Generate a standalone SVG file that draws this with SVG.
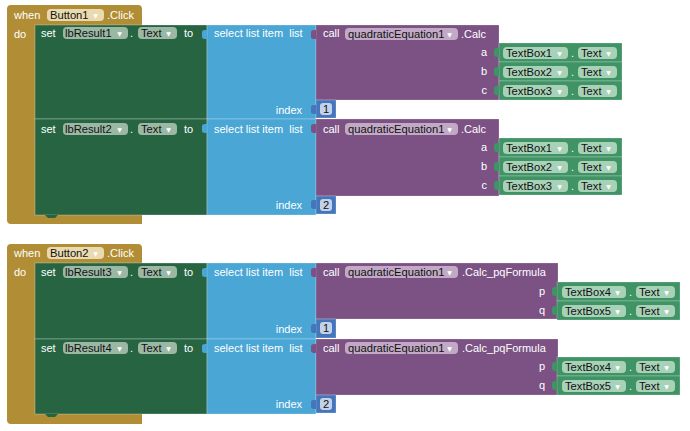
<svg xmlns="http://www.w3.org/2000/svg" width="690" height="431" viewBox="0 0 690 431">
<style>
.t{font-family:"Liberation Sans",Arial,sans-serif;font-size:11px;fill:#fff}
.e{text-anchor:end}
.f{font-family:"Liberation Sans",Arial,sans-serif;font-size:11.2px;fill:#111}
.ar{font-family:"DejaVu Sans",sans-serif;font-size:6px;fill:#fff;text-anchor:middle}
.ev{fill:#b18e35}
.set{fill:#276542;stroke:#fff;stroke-opacity:.35;stroke-width:.8}
.sel{fill:#4aa6d5;stroke:#fff;stroke-opacity:.3;stroke-width:.8}
.call{fill:#7b5283;stroke:#fff;stroke-opacity:.25;stroke-width:.8}
.num{fill:#4576bb;stroke:#fff;stroke-opacity:.3;stroke-width:.8}
.tb{fill:#3f9365;stroke:#fff;stroke-opacity:.3;stroke-width:.8}
.fe{fill:#e9dab0}
.fs{fill:#9bb8a4}
.fc{fill:#c2aac6}
.fn{fill:#c3d2e8}
.ft{fill:#a8d2b8}
</style>
<defs>
<path id="tab" d="M0,0 C-3,0 -5,0 -5,2.5 V6.5 C-5,9 -3,9 0,9 Z"/>
</defs>

<g id="event1">
<path class="ev" d="M7,9 Q7,5 11,5 H138 Q142,5 142,9 V25 H35 V215 H142 V224 H11 Q7,224 7,220 Z"/>
<text class="t" x="14" y="19">when</text>
<rect class="fe" x="47" y="9" width="57" height="12" rx="4"/>
<text class="f" x="50" y="19">Button1</text>
<text class="ar" x="95.5" y="18">▼</text>
<text class="t" x="107" y="19">.Click</text>
<text class="t" x="14" y="38">do</text>
</g>

<g id="set1">
<rect class="set" x="35" y="25" width="172" height="94"/>
<text class="t" x="41" y="37">set</text>
<rect class="fs" x="63" y="27" width="65" height="12" rx="4"/>
<text class="f" x="65" y="37">lbResult1</text>
<text class="ar" x="119.5" y="36">▼</text>
<text class="t" x="130" y="37">.</text>
<rect class="fs" x="138" y="27" width="39" height="12" rx="4"/>
<text class="f" x="141" y="37">Text</text>
<text class="ar" x="168.5" y="36">▼</text>
<text class="t" x="184" y="37">to</text>
</g>
<g id="select1">
<rect class="sel" x="207" y="25" width="109" height="94"/>
<text class="t" x="214" y="37" xml:space="preserve">select list item  list</text>
<text class="t e" x="302" y="114">index</text>
</g>
<g id="call1">
<rect class="call" x="316" y="25" width="183" height="75"/>
<text class="t" x="323" y="37">call</text>
<rect class="fc" x="345" y="28" width="113" height="12" rx="4"/>
<text class="f" x="348" y="38">quadraticEquation1</text>
<text class="ar" x="449.5" y="37">▼</text>
<text class="t" x="461" y="38">.Calc</text>
<text class="t e" x="487" y="56">a</text>
<text class="t e" x="487" y="75">b</text>
<text class="t e" x="487" y="94">c</text>
</g>
<g id="tb1">
<rect class="tb" x="499" y="43" width="123" height="19"/>
<rect class="ft" x="503" y="47" width="65" height="12" rx="4"/>
<text class="f" x="506" y="57">TextBox1</text>
<text class="ar" x="559.5" y="56">▼</text>
<text class="t" x="571" y="57">.</text>
<rect class="ft" x="578" y="47" width="39" height="12" rx="4"/>
<text class="f" x="581" y="57">Text</text>
<text class="ar" x="608.5" y="56">▼</text>
</g>
<g id="tb2">
<rect class="tb" x="499" y="62" width="123" height="19"/>
<rect class="ft" x="503" y="66" width="65" height="12" rx="4"/>
<text class="f" x="506" y="76">TextBox2</text>
<text class="ar" x="559.5" y="75">▼</text>
<text class="t" x="571" y="76">.</text>
<rect class="ft" x="578" y="66" width="39" height="12" rx="4"/>
<text class="f" x="581" y="76">Text</text>
<text class="ar" x="608.5" y="75">▼</text>
</g>
<g id="tb3">
<rect class="tb" x="499" y="81" width="123" height="19"/>
<rect class="ft" x="503" y="85" width="65" height="12" rx="4"/>
<text class="f" x="506" y="95">TextBox3</text>
<text class="ar" x="559.5" y="94">▼</text>
<text class="t" x="571" y="95">.</text>
<rect class="ft" x="578" y="85" width="39" height="12" rx="4"/>
<text class="f" x="581" y="95">Text</text>
<text class="ar" x="608.5" y="94">▼</text>
</g>
<g id="num1">
<rect class="num" x="316" y="100" width="20" height="18"/>
<rect class="fn" x="320" y="103" width="12" height="12" rx="3"/>
<text class="f" x="323" y="113">1</text>
</g>

<g id="set2">
<rect class="set" x="35" y="119" width="172" height="96"/>
<text class="t" x="41" y="133">set</text>
<rect class="fs" x="63" y="123" width="65" height="12" rx="4"/>
<text class="f" x="65" y="133">lbResult2</text>
<text class="ar" x="119.5" y="132">▼</text>
<text class="t" x="130" y="133">.</text>
<rect class="fs" x="138" y="123" width="39" height="12" rx="4"/>
<text class="f" x="141" y="133">Text</text>
<text class="ar" x="168.5" y="132">▼</text>
<text class="t" x="184" y="133">to</text>
</g>
<g id="select2">
<rect class="sel" x="207" y="119" width="109" height="96"/>
<text class="t" x="214" y="133" xml:space="preserve">select list item  list</text>
<text class="t e" x="302" y="209">index</text>
</g>
<g id="call2">
<rect class="call" x="316" y="119" width="183" height="77"/>
<text class="t" x="323" y="133">call</text>
<rect class="fc" x="345" y="123" width="113" height="12" rx="4"/>
<text class="f" x="348" y="133">quadraticEquation1</text>
<text class="ar" x="449.5" y="132">▼</text>
<text class="t" x="461" y="133">.Calc</text>
<text class="t e" x="487" y="151">a</text>
<text class="t e" x="487" y="170">b</text>
<text class="t e" x="487" y="189">c</text>
</g>
<g id="tb4">
<rect class="tb" x="499" y="138" width="123" height="19"/>
<rect class="ft" x="503" y="142" width="65" height="12" rx="4"/>
<text class="f" x="506" y="152">TextBox1</text>
<text class="ar" x="559.5" y="151">▼</text>
<text class="t" x="571" y="152">.</text>
<rect class="ft" x="578" y="142" width="39" height="12" rx="4"/>
<text class="f" x="581" y="152">Text</text>
<text class="ar" x="608.5" y="151">▼</text>
</g>
<g id="tb5">
<rect class="tb" x="499" y="157" width="123" height="19"/>
<rect class="ft" x="503" y="161" width="65" height="12" rx="4"/>
<text class="f" x="506" y="171">TextBox2</text>
<text class="ar" x="559.5" y="170">▼</text>
<text class="t" x="571" y="171">.</text>
<rect class="ft" x="578" y="161" width="39" height="12" rx="4"/>
<text class="f" x="581" y="171">Text</text>
<text class="ar" x="608.5" y="170">▼</text>
</g>
<g id="tb6">
<rect class="tb" x="499" y="176" width="123" height="19"/>
<rect class="ft" x="503" y="180" width="65" height="12" rx="4"/>
<text class="f" x="506" y="190">TextBox3</text>
<text class="ar" x="559.5" y="189">▼</text>
<text class="t" x="571" y="190">.</text>
<rect class="ft" x="578" y="180" width="39" height="12" rx="4"/>
<text class="f" x="581" y="190">Text</text>
<text class="ar" x="608.5" y="189">▼</text>
</g>
<g id="num2">
<rect class="num" x="316" y="196" width="20" height="18"/>
<rect class="fn" x="320" y="199" width="12" height="12" rx="3"/>
<text class="f" x="323" y="209">2</text>
</g>

<g id="event2">
<path class="ev" d="M7,248 Q7,244 11,244 H138 Q142,244 142,248 V263 H35 V414 H142 V424 H11 Q7,424 7,420 Z"/>
<text class="t" x="14" y="257">when</text>
<rect class="fe" x="47" y="247" width="57" height="12" rx="4"/>
<text class="f" x="50" y="257">Button2</text>
<text class="ar" x="95.5" y="256">▼</text>
<text class="t" x="107" y="257">.Click</text>
<text class="t" x="14" y="276">do</text>
</g>

<g id="set3">
<rect class="set" x="35" y="263" width="172" height="76"/>
<text class="t" x="41" y="276">set</text>
<rect class="fs" x="63" y="266" width="65" height="12" rx="4"/>
<text class="f" x="65" y="276">lbResult3</text>
<text class="ar" x="119.5" y="275">▼</text>
<text class="t" x="130" y="276">.</text>
<rect class="fs" x="138" y="266" width="39" height="12" rx="4"/>
<text class="f" x="141" y="276">Text</text>
<text class="ar" x="168.5" y="275">▼</text>
<text class="t" x="184" y="276">to</text>
</g>
<g id="select3">
<rect class="sel" x="207" y="263" width="109" height="76"/>
<text class="t" x="214" y="276" xml:space="preserve">select list item  list</text>
<text class="t e" x="302" y="333">index</text>
</g>
<g id="call3">
<rect class="call" x="316" y="263" width="242" height="56"/>
<text class="t" x="323" y="276">call</text>
<rect class="fc" x="345" y="266" width="113" height="12" rx="4"/>
<text class="f" x="348" y="276">quadraticEquation1</text>
<text class="ar" x="449.5" y="275">▼</text>
<text class="t" x="462" y="276">.Calc_pqFormula</text>
<text class="t e" x="545" y="295">p</text>
<text class="t e" x="545" y="314">q</text>
</g>
<g id="tb7">
<rect class="tb" x="557" y="282" width="123" height="19"/>
<rect class="ft" x="562" y="286" width="64" height="12" rx="4"/>
<text class="f" x="565" y="296">TextBox4</text>
<text class="ar" x="617.5" y="295">▼</text>
<text class="t" x="629" y="296">.</text>
<rect class="ft" x="636" y="286" width="39" height="12" rx="4"/>
<text class="f" x="639" y="296">Text</text>
<text class="ar" x="666.5" y="295">▼</text>
</g>
<g id="tb8">
<rect class="tb" x="557" y="301" width="123" height="19"/>
<rect class="ft" x="562" y="305" width="64" height="12" rx="4"/>
<text class="f" x="565" y="315">TextBox5</text>
<text class="ar" x="617.5" y="314">▼</text>
<text class="t" x="629" y="315">.</text>
<rect class="ft" x="636" y="305" width="39" height="12" rx="4"/>
<text class="f" x="639" y="315">Text</text>
<text class="ar" x="666.5" y="314">▼</text>
</g>
<g id="num3">
<rect class="num" x="316" y="319" width="20" height="19"/>
<rect class="fn" x="320" y="322" width="12" height="12" rx="3"/>
<text class="f" x="323" y="332">1</text>
</g>

<g id="set4">
<rect class="set" x="35" y="339" width="172" height="75"/>
<text class="t" x="41" y="352">set</text>
<rect class="fs" x="63" y="342" width="65" height="12" rx="4"/>
<text class="f" x="65" y="352">lbResult4</text>
<text class="ar" x="119.5" y="351">▼</text>
<text class="t" x="130" y="352">.</text>
<rect class="fs" x="138" y="342" width="39" height="12" rx="4"/>
<text class="f" x="141" y="352">Text</text>
<text class="ar" x="168.5" y="351">▼</text>
<text class="t" x="184" y="352">to</text>
</g>
<g id="select4">
<rect class="sel" x="207" y="339" width="109" height="75"/>
<text class="t" x="214" y="352" xml:space="preserve">select list item  list</text>
<text class="t e" x="302" y="408">index</text>
</g>
<g id="call4">
<rect class="call" x="316" y="339" width="242" height="56"/>
<text class="t" x="323" y="352">call</text>
<rect class="fc" x="345" y="342" width="113" height="12" rx="4"/>
<text class="f" x="348" y="352">quadraticEquation1</text>
<text class="ar" x="449.5" y="351">▼</text>
<text class="t" x="462" y="352">.Calc_pqFormula</text>
<text class="t e" x="545" y="370">p</text>
<text class="t e" x="545" y="389">q</text>
</g>
<g id="tb9">
<rect class="tb" x="557" y="357" width="123" height="19"/>
<rect class="ft" x="562" y="361" width="64" height="12" rx="4"/>
<text class="f" x="565" y="371">TextBox4</text>
<text class="ar" x="617.5" y="370">▼</text>
<text class="t" x="629" y="371">.</text>
<rect class="ft" x="636" y="361" width="39" height="12" rx="4"/>
<text class="f" x="639" y="371">Text</text>
<text class="ar" x="666.5" y="370">▼</text>
</g>
<g id="tb10">
<rect class="tb" x="557" y="376" width="123" height="19"/>
<rect class="ft" x="562" y="380" width="64" height="12" rx="4"/>
<text class="f" x="565" y="390">TextBox5</text>
<text class="ar" x="617.5" y="389">▼</text>
<text class="t" x="629" y="390">.</text>
<rect class="ft" x="636" y="380" width="39" height="12" rx="4"/>
<text class="f" x="639" y="390">Text</text>
<text class="ar" x="666.5" y="389">▼</text>
</g>
<g id="num4">
<rect class="num" x="316" y="395" width="20" height="18"/>
<rect class="fn" x="320" y="398" width="12" height="12" rx="3"/>
<text class="f" x="323" y="408">2</text>
</g>

<g id="connectors">
<use href="#tab" x="207" y="30" fill="#4aa6d5"/>
<use href="#tab" x="207" y="124" fill="#4aa6d5"/>
<use href="#tab" x="207" y="268" fill="#4aa6d5"/>
<use href="#tab" x="207" y="344" fill="#4aa6d5"/>
<use href="#tab" x="316" y="30" fill="#7b5283"/>
<use href="#tab" x="316" y="124" fill="#7b5283"/>
<use href="#tab" x="316" y="268" fill="#7b5283"/>
<use href="#tab" x="316" y="344" fill="#7b5283"/>
<use href="#tab" x="316" y="105" fill="#4576bb"/>
<use href="#tab" x="316" y="200" fill="#4576bb"/>
<use href="#tab" x="316" y="324" fill="#4576bb"/>
<use href="#tab" x="316" y="400" fill="#4576bb"/>
<use href="#tab" x="499" y="48" fill="#3f9365"/>
<use href="#tab" x="499" y="67" fill="#3f9365"/>
<use href="#tab" x="499" y="86" fill="#3f9365"/>
<use href="#tab" x="499" y="143" fill="#3f9365"/>
<use href="#tab" x="499" y="162" fill="#3f9365"/>
<use href="#tab" x="499" y="181" fill="#3f9365"/>
<use href="#tab" x="557" y="287" fill="#3f9365"/>
<use href="#tab" x="557" y="306" fill="#3f9365"/>
<use href="#tab" x="557" y="362" fill="#3f9365"/>
<use href="#tab" x="557" y="381" fill="#3f9365"/>
<path d="M45,215 L48,218 H55 L58,215 Z" fill="#276542"/>
<path d="M45,414 L48,417 H55 L58,414 Z" fill="#276542"/>
</g>
</svg>
